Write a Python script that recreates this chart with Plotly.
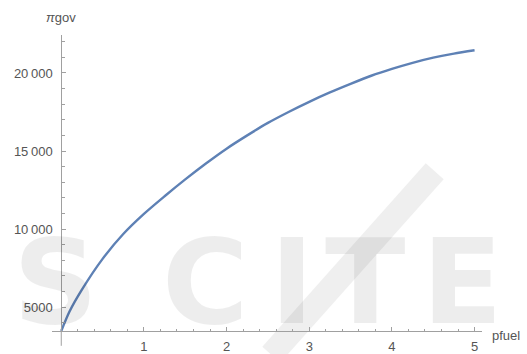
import plotly.graph_objects as go

# Government profit as a function of fuel price
pfuel = [0.0, 0.1, 0.25, 0.5, 0.75, 1.0, 1.25, 1.5, 1.75, 2.0, 2.25, 2.5, 2.75,
         3.0, 3.25, 3.5, 3.75, 4.0, 4.25, 4.5, 4.75, 5.0]
pigov = [3470, 4720, 6120, 8090, 9680, 10970, 12100, 13180, 14200, 15150, 16000, 16800, 17500,
         18150, 18750, 19300, 19820, 20260, 20650, 20980, 21240, 21450]

x_major = [1, 2, 3, 4, 5]
y_major = [5000, 10000, 15000, 20000]
y_major_text = ["5000", "10\u2009000", "15\u2009000", "20\u2009000"]

x_range = [-0.112, 5.09]
y_range = [3470, 22430]

axis_col = "#a0a0a0"
label_col = "#555555"
font_family = "Liberation Sans, Arial, sans-serif"

fig = go.Figure()
fig.add_trace(go.Scatter(
    x=pfuel, y=pigov, mode="lines",
    line=dict(color="#5E81B5", width=2.4, shape="spline", smoothing=0.8),
    hoverinfo="skip",
))

fig.update_layout(
    width=527, height=354,
    margin=dict(l=52, r=45, t=35, b=23, autoexpand=False),
    paper_bgcolor="white", plot_bgcolor="white",
    showlegend=False,
    font=dict(family=font_family, size=13, color=label_col),
    xaxis=dict(
        range=x_range, showgrid=False, zeroline=False, automargin=False,
        showline=True, linecolor=axis_col, linewidth=1,
        tickmode="array", tickvals=x_major, ticktext=[str(v) for v in x_major],
        ticks="inside", ticklen=4, tickcolor=axis_col, tickwidth=1,
        minor=dict(tickmode="array",
                   tickvals=[round(0.2 * i, 1) for i in range(1, 26) if i % 5],
                   ticks="inside", ticklen=2.5, tickcolor=axis_col, tickwidth=1),
        tickfont=dict(size=13, color=label_col),
        ticklabelstandoff=3,
    ),
    yaxis=dict(
        range=y_range, showgrid=False, zeroline=False, automargin=False,
        anchor="free", position=(0 - x_range[0]) / (x_range[1] - x_range[0]),
        showline=True, linecolor=axis_col, linewidth=1,
        tickmode="array", tickvals=y_major, ticktext=y_major_text,
        ticks="inside", ticklen=4, tickcolor=axis_col, tickwidth=1,
        minor=dict(tickmode="array",
                   tickvals=[v for v in range(4000, 23000, 1000) if v % 5000],
                   ticks="inside", ticklen=2.5, tickcolor=axis_col, tickwidth=1),
        tickfont=dict(size=13, color=label_col),
        ticklabelstandoff=6,
    ),
)

# vertical axis continues a little below the horizontal one
fig.add_shape(type="line", xref="x", yref="paper", x0=0, x1=0, y0=-0.05, y1=0,
              line=dict(color=axis_col, width=1))

# axis labels
fig.add_annotation(xref="x", yref="paper", x=0, y=1, yshift=18, showarrow=False,
                   text="<i>π</i>gov", font=dict(size=13, color=label_col),
                   xanchor="center", yanchor="middle")
fig.add_annotation(xref="paper", yref="y", x=1, y=y_range[0], xshift=8, yshift=-4,
                   showarrow=False, text="pfuel", font=dict(size=13, color=label_col),
                   xanchor="left", yanchor="middle")

# faint publisher watermark behind the plot
fig.add_shape(type="line", xref="paper", yref="paper", x0=0.51, y0=-0.08, x1=0.89, y1=0.54,
              layer="below", line=dict(color="#efefef", width=24))
for letter, px in [("S", 55), ("C", 205), ("I", 292), ("T", 365), ("E", 462)]:
    fig.add_annotation(xref="paper", yref="paper",
                       x=(px - 52) / 430, y=-22 / 296,
                       text=f"<b>{letter}</b>", showarrow=False,
                       xanchor="center", yanchor="bottom",
                       font=dict(family="DejaVu Sans", size=118, color="rgba(0,0,0,0.07)"))

fig.write_html("out.html")
